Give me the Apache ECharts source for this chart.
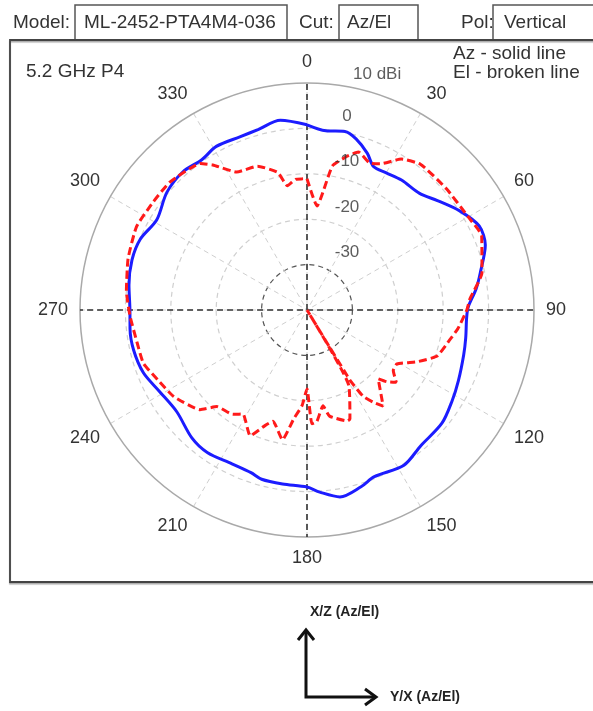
<!DOCTYPE html>
<html><head><meta charset="utf-8">
<script src="https://cdn.jsdelivr.net/npm/echarts@6.0.0/dist/echarts.min.js"></script>
<style>html,body{margin:0;padding:0;background:#fff}#c{width:593px;height:711px}</style>
</head><body><div id="c"></div>
<script>
// Azimuth cut (solid blue): angle in degrees, gain in dBi
const azAngles = [0,6,12,16,21,25,30,36,44,50,57,64,70,78,83,89,93,100,106,115,122,130,140,148,158,163,170,176,180,188,195,199,206,215,222,232,241,249,257,264,270,278,286,293,301,310,318,325,331,339,345,352,360];
const azGain   = [0.8,-0.3,0.2,-0.8,-3,-5.2,-5.1,-4.6,-4.3,-2.5,0.1,2.2,1.8,-1,-2.5,-4.5,-4.8,-4.5,-4.1,-3.2,-2.3,-1.2,-1,0.3,-0.4,0.7,1.8,0.2,-1,-1.3,-1.4,-2.1,-2.3,-1.7,-2.1,-3.6,-2.9,-1.4,-0.8,-0.8,-1,-0.4,0.1,-0.1,-1.4,0.3,0.9,0.4,1.2,0.9,1.2,2.2,0.8];
// Elevation cut (broken red)
const elAngles = [0,5.5,10,14.6,18,23,26.6,32,38,49,60,67,78,86,90,97,101.5,109.5,115,121,125,129,132,134,141.6,144.3,147,148.5,150,151,158.5,160,168,170.5,175,177.5,180,183,187,190.7,197,200,204.3,211.6,215.4,223,227,237,245,252,259,268,276,286,296,305,313,324,327,333,341,348,351,355,358,360];
const elGain   = [-11.1,-17,-7.8,-5,-3.4,-4.8,-4,-0.8,0.7,0.7,1,1.8,-0.6,-4,-4.8,-6.5,-7.8,-9.6,-13.1,-16.9,-16.8,-14.7,-16.4,-18.2,-13,-15,-17.4,-22,-40,-21,-14.2,-14,-16.1,-18.6,-15.3,-14.9,-22.6,-18.9,-15.8,-10.9,-14.4,-12.9,-9.6,-13.1,-11.8,-10.9,-7.8,-5,-3.7,-2.1,-1.9,-1,0,1,1.8,1.4,1.3,-0.1,-1.9,-5.9,-6.5,-9,-12.3,-11.1,-11.1,-11.1];
// Radius ring labels
const ringValues = [10,0,-10,-20,-30];
const ringLabels = ['10 dBi','0','-10','-20','-30'];
const radiusMin = -40, radiusMax = 10, radiusStep = 10;
const angleStep = 30;

const FONT = '"Liberation Sans", Arial, sans-serif';
const chart = echarts.init(document.getElementById('c'), null, {renderer:'canvas'});

function pairs(r, a){ return r.map((v,i)=>[v, a[i]]); }
const ringData = ringValues.map((v,i)=>({
  value:[v,0],
  label: i===0 ? {formatter: ringLabels[i], offset:[46,-9], align:'left'} : {formatter: ringLabels[i]}
}));

const txt = (text, x, y, size, opts) => Object.assign({
  type:'text', style: Object.assign({text, x, y, fontSize:size, fontFamily:FONT, fill:'#333', verticalAlign:'middle', align:'left'}, (opts||{}).style||{}), z:10
}, {});

chart.setOption({
  animation:false,
  backgroundColor:'#fff',
  polar:{center:[307,310], radius:227},
  angleAxis:{
    type:'value', min:0, max:360, interval:angleStep, startAngle:90, clockwise:true,
    axisLine:{show:true, lineStyle:{color:'#a9a9a9', width:1.5}},
    axisTick:{show:false},
    axisLabel:{show:true, margin:12, fontSize:18, fontFamily:FONT, color:'#333',
      formatter:v=> v===360 ? '' : String(v)},
    splitLine:{show:true, lineStyle:{color:'#cfcfcf', width:1, type:[5,4]}}
  },
  radiusAxis:{
    type:'value', min:radiusMin, max:radiusMax, interval:radiusStep,
    axisLine:{show:false}, axisTick:{show:false}, axisLabel:{show:false},
    splitLine:{show:true, lineStyle:{color:['#cfcfcf','#555','#cfcfcf','#cfcfcf','#cfcfcf','rgba(0,0,0,0)'], width:1.2, type:[5,4]}}
  },
  series:[
    {type:'line', coordinateSystem:'polar', data:[[12,0],[12,180]], symbol:'none', silent:true, z:2,
      lineStyle:{color:'#333', width:1.6, type:[6,4]}},
    {type:'line', coordinateSystem:'polar', data:[[12,90],[12,270]], symbol:'none', silent:true, z:2,
      lineStyle:{color:'#333', width:1.6, type:[6,4]}},
    {name:'Az', type:'line', coordinateSystem:'polar', data:pairs(azGain, azAngles), symbol:'none', smooth:0.3, z:3,
      lineStyle:{color:'#1c1cff', width:3}},
    {name:'El', type:'line', coordinateSystem:'polar', data:pairs(elGain, elAngles), symbol:'none', smooth:0.15, z:4,
      lineStyle:{color:'#ff1a1a', width:3, type:[8,4]}},
    {type:'scatter', coordinateSystem:'polar', data:ringData, symbolSize:0.1, itemStyle:{color:'rgba(0,0,0,0)'}, z:5, silent:true,
      label:{show:true, position:'inside', offset:[40,-12], align:'center', verticalAlign:'middle', fontSize:17, fontFamily:FONT, color:'#333'}}
  ],
  graphic:[
    // header
    txt('Model:', 13, 23, 19),
    {type:'rect', shape:{x:75, y:5, width:212, height:35}, style:{fill:'none', stroke:'#555', lineWidth:1.5}},
    txt('ML-2452-PTA4M4-036', 84, 23, 19),
    txt('Cut:', 299, 23, 19),
    {type:'rect', shape:{x:339, y:5, width:79, height:35}, style:{fill:'none', stroke:'#555', lineWidth:1.5}},
    txt('Az/El', 347, 23, 19),
    txt('Pol:', 461, 23, 19),
    {type:'rect', shape:{x:493, y:5, width:120, height:35}, style:{fill:'none', stroke:'#555', lineWidth:1.5}},
    txt('Vertical', 504, 23, 19),
    // frame
    {type:'rect', shape:{x:10, y:40, width:610, height:542}, style:{fill:'none', stroke:'#444', lineWidth:1.8, shadowColor:'rgba(0,0,0,0.35)', shadowOffsetY:1.5, shadowBlur:1}},
    txt('5.2 GHz P4', 26, 72, 19),
    txt('Az - solid line', 453, 54, 19),
    txt('El - broken line', 453, 73, 19),
    // bottom axes legend
    txt('X/Z (Az/El)', 310, 612, 14, {style:{fontWeight:'bold', fill:'#222'}}),
    txt('Y/X (Az/El)', 390, 697, 14, {style:{fontWeight:'bold', fill:'#222'}}),
    {type:'polyline', shape:{points:[[306,630],[306,697],[375,697]]}, style:{fill:'none', stroke:'#111', lineWidth:3}},
    {type:'polyline', shape:{points:[[298,640],[306,630],[314,640]]}, style:{fill:'none', stroke:'#111', lineWidth:3}},
    {type:'polyline', shape:{points:[[365,689],[376,697],[365,705]]}, style:{fill:'none', stroke:'#111', lineWidth:3}}
  ]
});
</script>
</body></html>
